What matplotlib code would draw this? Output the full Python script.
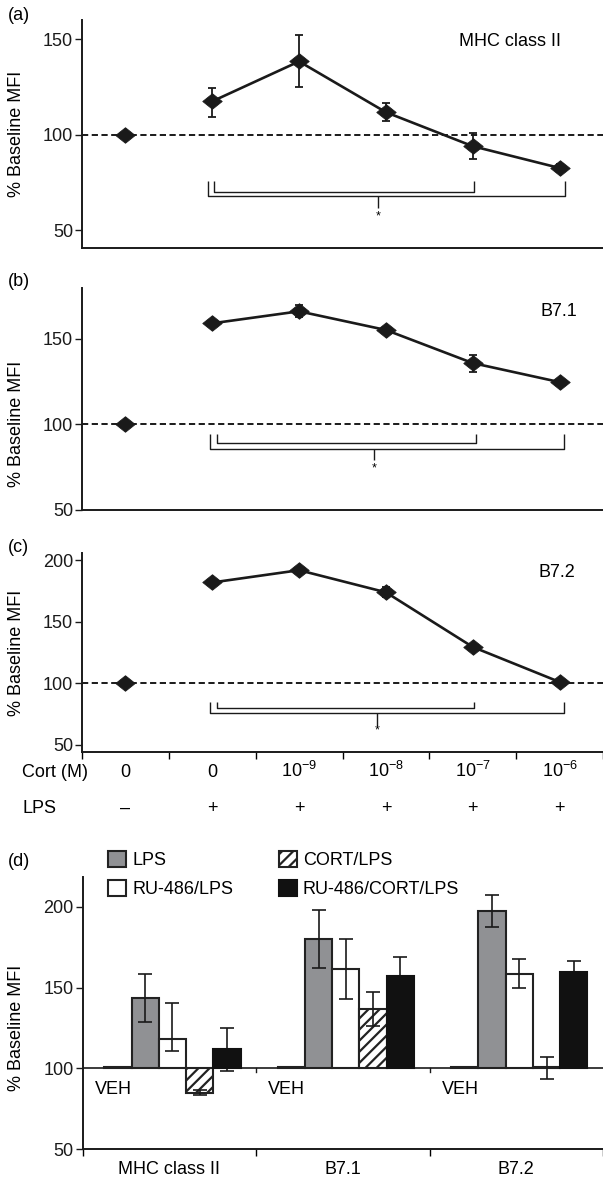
import matplotlib
matplotlib.use("Agg")
import matplotlib.pyplot as plt
import matplotlib.transforms as mtrans
from matplotlib.patches import Patch
from matplotlib.path import Path
import numpy as np

plt.rcParams['font.family'] = ['Liberation Sans', 'DejaVu Sans']
plt.rcParams['mathtext.fontset'] = 'custom'
plt.rcParams['mathtext.rm'] = 'Liberation Sans'
plt.rcParams['mathtext.it'] = 'Liberation Sans'
plt.rcParams['hatch.linewidth'] = 1.6
plt.rcParams['hatch.color'] = '#222222'

# ---------------- data: panels (a)-(c) ----------------
cort_labels = ['0', '0', r'$\mathregular{10^{-9}}$', r'$\mathregular{10^{-8}}$',
               r'$\mathregular{10^{-7}}$', r'$\mathregular{10^{-6}}$']
lps_labels = ['\u2013', '+', '+', '+', '+', '+']

mhc_mean = [100, 117.4, 138.3, 111.7, 93.9, 82.5]
mhc_err_lo = [0, 8.2, 13.6, 4.7, 6.7, 2.0]
mhc_err_hi = [0, 7.0, 14.0, 4.9, 7.0, 2.0]

b71_mean = [100, 158.9, 165.9, 155.0, 135.7, 124.6]
b71_err_lo = [0, 1.0, 3.5, 1.5, 5.0, 1.0]
b71_err_hi = [0, 1.0, 3.5, 1.5, 5.0, 1.0]

b72_mean = [100, 182.0, 192.0, 174.0, 129.5, 101.0]
b72_err_lo = [0, 1.0, 1.0, 4.0, 2.0, 1.0]
b72_err_hi = [0, 1.0, 1.0, 4.0, 2.0, 1.0]

# ---------------- data: panel (d) ----------------
groups = ['MHC class II', 'B7.1', 'B7.2']
series = ['VEH', 'LPS', 'RU-486/LPS', 'CORT/LPS', 'RU-486/CORT/LPS']
veh_mean = [100.9, 100.9, 100.9]
veh_lo = [0, 0, 0]
veh_hi = [0, 0, 0]
lps_mean = [143.7, 180.3, 197.5]
lps_lo = [15.1, 18.0, 10.1]
lps_hi = [15.0, 17.8, 9.7]
ru_mean = [118.3, 161.7, 158.5]
ru_lo = [7.8, 18.5, 8.7]
ru_hi = [22.3, 18.1, 8.9]
cort_mean = [85.0, 136.6, 100.8]
cort_lo = [1.7, 10.2, 7.4]
cort_hi = [1.7, 10.5, 6.4]
rucort_mean = [111.7, 157.0, 159.5]
rucort_lo = [13.6, 12.0, 6.8]
rucort_hi = [13.4, 12.2, 6.8]

W, H = 603, 1183
fig = plt.figure(figsize=(W / 100, H / 100), dpi=100)


def add_ax(left, top, bottom, right=W):
    return fig.add_axes([left / W, 1 - bottom / H, (right - left) / W, (bottom - top) / H])


FS = 13
diamond = Path([(-1, 0), (0, 0.8), (1, 0), (0, -0.8), (-1, 0)],
               [Path.MOVETO, Path.LINETO, Path.LINETO, Path.LINETO, Path.CLOSEPOLY])


def style_ax(ax):
    for s in ['top', 'right']:
        ax.spines[s].set_visible(False)
    for s in ['left', 'bottom']:
        ax.spines[s].set_linewidth(1.4)
        ax.spines[s].set_color('#1a1a1a')
    ax.tick_params(axis='y', direction='out', length=5, width=1.0, labelsize=FS, pad=1.5,
                   colors='#1a1a1a')


def line_panel(ax, mean, lo, hi, ylim, yticks, name, name_xy, brk):
    x = np.arange(len(mean))
    ax.axhline(100, color='#1a1a1a', lw=1.4, ls=(0, (3.2, 1.8)), zorder=1)
    ax.errorbar(x[1:], mean[1:], yerr=[lo[1:], hi[1:]], fmt='none', ecolor='#1a1a1a',
                elinewidth=1.3, capsize=2.6, capthick=1.3, zorder=2)
    ax.plot(x[1:], mean[1:], color='#1a1a1a', lw=1.9, zorder=3)
    ax.plot(x, mean, ls='none', marker=diamond, ms=14, color='#1a1a1a',
            mec='#1a1a1a', mew=0.6, zorder=4)
    ax.set_xlim(-0.5, 5.5)
    ax.set_ylim(*ylim)
    ax.set_yticks(yticks)
    style_ax(ax)
    # significance brackets
    (ix0, ix1, ox0, ox1, ytop, yin, yout, cx, ycen, ystar) = brk
    kw = dict(color='#1a1a1a', lw=1.0, solid_capstyle='butt', zorder=2)
    ax.plot([ix0, ix0, ix1, ix1], [ytop, yin, yin, ytop], **kw)
    ax.plot([ox0, ox0, ox1, ox1], [ytop, yout, yout, ytop], **kw)
    ax.plot([cx, cx], [yout, ycen], **kw)
    ax.text(cx, ystar, '*', ha='center', va='center', fontsize=9)
    fig.text(name_xy[0] / W, 1 - name_xy[1] / H, name, fontsize=FS, ha='left', va='center')


# panel (a)
axA = add_ax(82, 20, 248)
line_panel(axA, mhc_mean, mhc_err_lo, mhc_err_hi, (40.6, 160), [50, 100, 150],
           'MHC class II', (459, 42),
           (1.02, 4.02, 0.95, 5.06, 75.6, 70.0, 67.7, 2.91, 61.8, 57.3))
axA.set_xticks([])

# panel (b)
axB = add_ax(82, 288, 510)
line_panel(axB, b71_mean, b71_err_lo, b71_err_hi, (50, 179.5), [50, 100, 150],
           'B7.1', (540, 312),
           (1.05, 4.04, 0.97, 5.05, 94.2, 89.1, 85.8, 2.86, 79.0, 74.0))
axB.set_xticks([])

# panel (c)
axC = add_ax(82, 553, 752)
line_panel(axC, b72_mean, b72_err_lo, b72_err_hi, (44, 206), [50, 100, 150, 200],
           'B7.2', (538, 573),
           (1.06, 4.02, 0.97, 5.05, 85.0, 79.6, 75.5, 2.9, 65.1, 61.8))
axC.set_xticks(np.arange(-0.5, 6.0, 1.0))
axC.tick_params(axis='x', direction='out', length=5, width=1.0, labelbottom=False)
trC = mtrans.blended_transform_factory(axC.transData, fig.transFigure)
for i, (c, l) in enumerate(zip(cort_labels, lps_labels)):
    axC.text(i, 1 - 777 / H, c, transform=trC, ha='center', va='baseline', fontsize=FS)
    axC.text(i, 1 - 813 / H, l, transform=trC, ha='center', va='baseline', fontsize=FS)
fig.text(22 / W, 1 - 777 / H, 'Cort (M)', ha='left', va='baseline', fontsize=FS)
fig.text(22 / W, 1 - 813 / H, 'LPS', ha='left', va='baseline', fontsize=FS)

# panel (d)
axD = add_ax(82.7, 877, 1149)
bw = 0.157
start = 0.125
gx = np.arange(len(groups))
edge = '#222222'
axD.axhline(100, color='#1a1a1a', lw=1.2, zorder=1)
specs = [
    (veh_mean, veh_lo, veh_hi, dict(color='#222222', edgecolor='#222222', linewidth=1.5)),
    (lps_mean, lps_lo, lps_hi, dict(color='#909194', edgecolor=edge, linewidth=1.5)),
    (ru_mean, ru_lo, ru_hi, dict(color='white', edgecolor=edge, linewidth=1.5)),
    (cort_mean, cort_lo, cort_hi, dict(color='white', edgecolor=edge, linewidth=1.5, hatch='///')),
    (rucort_mean, rucort_lo, rucort_hi, dict(color='#111111', edgecolor='#111111', linewidth=1.5)),
]
for k, (m, lo, hi, st) in enumerate(specs):
    xs = gx + start + bw * (k + 0.5)
    heights = np.array(m) - 100
    axD.bar(xs, heights, width=bw, bottom=100, zorder=3, **st)
    if k > 0:
        axD.errorbar(xs, m, yerr=[lo, hi], fmt='none', ecolor='#1a1a1a', elinewidth=1.2,
                     capsize=5.3, capthick=1.2, zorder=2 if k == 4 else 4)
for g in gx:
    axD.text(g + 0.07, 86.8, 'VEH', ha='left', va='center', fontsize=FS)
for g in [1, 2]:
    axD.plot([g, g], [100, 97.8], color='#1a1a1a', lw=1.0, zorder=1)
axD.set_xlim(0, 3)
axD.set_ylim(50, 218.5)
axD.set_yticks([50, 100, 150, 200])
axD.set_xticks([0, 1, 2, 3])
axD.set_xticks(gx + 0.5, minor=True)
axD.set_xticklabels(groups, minor=True)
axD.tick_params(axis='x', which='major', direction='out', length=5, width=1.0, labelbottom=False)
axD.tick_params(axis='x', which='minor', length=0, labelsize=FS, pad=9)
style_ax(axD)

handles = [Patch(facecolor='#909194', edgecolor=edge, lw=1.5, label='LPS'),
           Patch(facecolor='white', edgecolor=edge, lw=1.5, label='RU-486/LPS'),
           Patch(facecolor='white', edgecolor=edge, lw=1.5, hatch='///', label='CORT/LPS'),
           Patch(facecolor='#111111', edgecolor='#111111', lw=1.5, label='RU-486/CORT/LPS')]
fig.legend(handles=handles, ncol=2, loc='upper left',
           bbox_to_anchor=(108 / W, 1 - 851 / H), frameon=False, fontsize=FS,
           handlelength=1.0, handleheight=0.95, handletextpad=0.35, columnspacing=2.5,
           labelspacing=0.62, borderpad=0, borderaxespad=0)

# y labels
for ax, yc in [(axA, 134), (axB, 423.5), (axC, 653), (axD, 1028)]:
    fig.text(17 / W, 1 - yc / H, '% Baseline MFI', rotation=90, ha='center', va='center',
             fontsize=FS)

# panel letters
for lab, yc in [('(a)', 15), ('(b)', 281), ('(c)', 548), ('(d)', 862)]:
    fig.text(8 / W, 1 - yc / H, lab, ha='left', va='center', fontsize=FS)

fig.savefig('out.png', dpi=100)
